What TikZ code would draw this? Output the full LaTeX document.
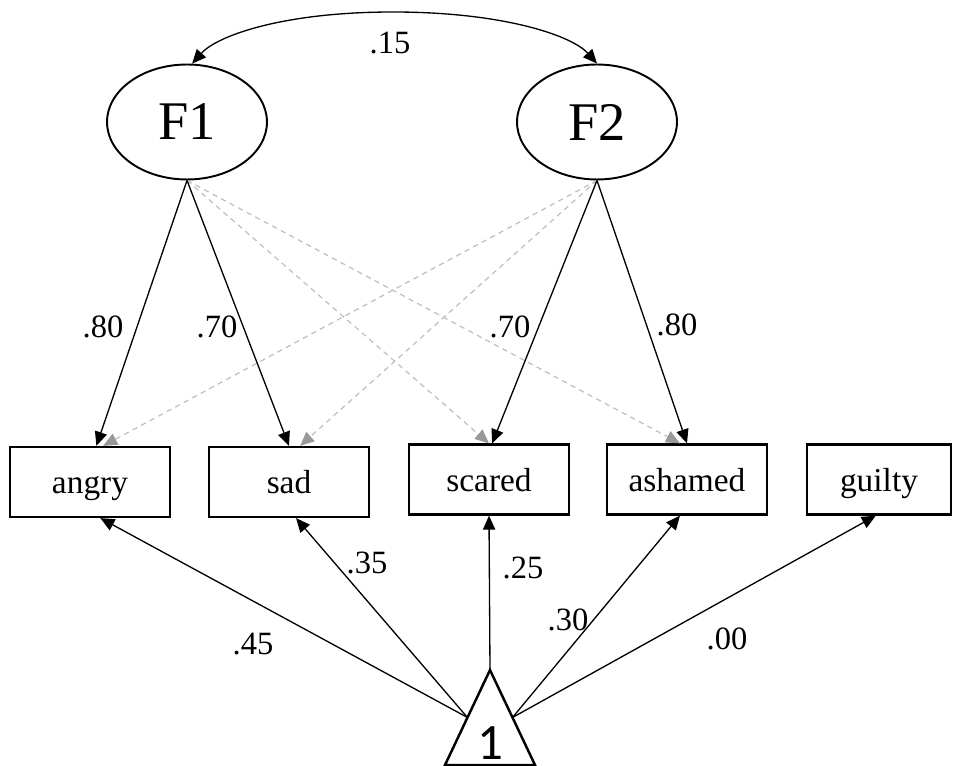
\documentclass[tikz,border=0pt]{standalone}
\usepackage{fontspec}
\setmainfont{Liberation Serif}
\newfontfamily\onefont{Carlito}
\usetikzlibrary{arrows.meta,shapes.geometric}

\begin{document}
\begin{tikzpicture}[x=0.02cm,y=-0.02cm,
    factor/.style={draw,ellipse,line width=1.1pt,minimum width=3.2cm,minimum height=2.3cm,inner sep=0pt,font=\fontsize{31}{34}\selectfont},
    item/.style={draw,line width=1.3pt,minimum width=3.2cm,minimum height=1.4cm,inner sep=0pt,text height=13.6pt,text depth=0pt,font=\fontsize{19}{20}\selectfont},
    coef/.style={inner sep=1pt,font=\fontsize{18.5}{20}\selectfont},
    load/.style={line width=0.75pt,-{Triangle[length=8pt,width=7pt]}},
    cross/.style={line width=0.7pt,black!25,dash pattern=on 3pt off 2.5pt,-{Triangle[length=8pt,width=7pt,color=black!40]}}]
  \useasboundingbox (0,0) rectangle (954,766);

  \node[factor] (F1) at (187,122) {F1};
  \node[factor] (F2) at (597,122) {F2};

  \node[item] (angry) at (90,482) {angry};
  \node[item] (sad) at (289,482) {sad};
  \node[item] (scared) at (489,479.5) {scared};
  \node[item] (ashamed) at (687,479.5) {ashamed};
  \node[item,minimum width=2.88cm] (guilty) at (879,479.5) {guilty};

  % constant
  \coordinate (apex) at (490,670);
  \coordinate (triL) at (445,765);
  \coordinate (triR) at (535,765);
  \coordinate (sideL) at (467.5,717.5);
  \coordinate (sideR) at (512.5,717.5);
  \draw[line width=1.4pt] (apex) -- (triL) -- (triR) -- cycle;
  \node[font=\onefont\fontsize{29}{30}\selectfont,inner sep=0pt] (one) at (490,743) {1};

  % covariance
  \coordinate (covtop) at (393,12);
  \draw[line width=0.75pt,{Triangle[length=8pt,width=7pt]}-{Triangle[length=8pt,width=7pt]}]
    (F1.85) .. controls +(25,-28) and +(-110,0) .. (covtop)
    .. controls +(110,0) and +(-25,-28) .. (F2.north);
  \node[coef] (c15) at (390,43) {.15};

  % cross loadings
  \draw[cross] (F1.south) -- (scared.north);
  \draw[cross] (F1.south) -- (ashamed.101);
  \draw[cross] (F2.south) -- (angry.70);
  \draw[cross] (F2.south) -- (sad.73);

  % loadings
  \draw[load] (F1.south) -- (angry.80);
  \draw[load] (F1.south) -- (sad.north);
  \draw[load] (F2.south) -- (scared.85);
  \draw[load] (F2.south) -- (ashamed.north);
  \node[coef] (c80a) at (103,327) {.80};
  \node[coef] (c70a) at (217,327) {.70};
  \node[coef] (c70b) at (510,327) {.70};
  \node[coef] (c80b) at (677,325) {.80};

  % intercepts
  \draw[load] (sideL) -- (angry.-74);
  \draw[load] (sideL) -- (sad.-79);
  \draw[load] (apex) -- (scared.south);
  \draw[load] (sideR) -- (ashamed.-101);
  \draw[load] (sideR) -- (guilty.-95);
  \node[coef] (c45) at (253,644) {.45};
  \node[coef] (c35) at (367,563) {.35};
  \node[coef] (c25) at (523,568) {.25};
  \node[coef] (c30) at (568,620) {.30};
  \node[coef] (c00) at (727,639) {.00};
\end{tikzpicture}
\end{document}
